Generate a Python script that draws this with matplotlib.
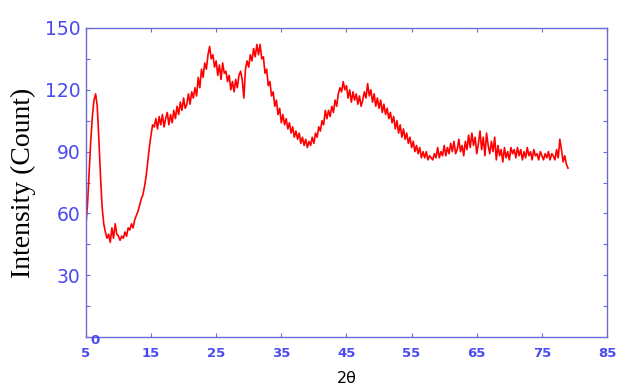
import numpy as np
import matplotlib
matplotlib.use("Agg")
import matplotlib.pyplot as plt

# diffraction scan, 2-theta from 5 to 79 deg in 0.25 deg steps
two_theta = np.arange(5.0, 79.0 + 0.001, 0.25)
counts = [
    54, 64, 80, 95,   107, 115, 118, 112,   96, 78, 63, 55,   51, 48, 50, 46,
    53, 48, 55, 50,   49, 47, 49, 48,   51, 49, 53, 52,   55, 53, 57, 59,
    61, 64, 67, 69,   73, 78, 85, 92,   98, 103, 102, 106,   101, 107, 103, 108,
    102, 106, 109, 103,   108, 104, 110, 106,   112, 108, 114, 110,   116, 111, 113, 118,
    113, 119, 116, 121,   117, 126, 121, 130,   126, 133, 130, 137,   141, 135, 137, 131,
    134, 127, 132, 125,   133, 128, 129, 124,   127, 120, 124, 119,   125, 121, 127, 129,
    125, 116, 130, 134,   131, 137, 134, 140,   136, 142, 137, 142,   135, 136, 128, 130,
    122, 124, 117, 119,   112, 115, 108, 111,   104, 108, 103, 106,   101, 104, 99, 102,
    97, 100, 96, 99,   94, 97, 93, 96,   92, 95, 93, 97,   94, 99, 97, 102,
    100, 105, 103, 110,   106, 110, 107, 112,   109, 115, 112, 118,   121, 119, 124, 120,
    122, 116, 120, 114,   119, 115, 118, 113,   117, 112, 115, 119,   116, 123, 117, 120,
    114, 118, 112, 116,   111, 115, 109, 113,   108, 111, 106, 109,   104, 107, 101, 105,
    99, 103, 97, 101,   96, 99, 94, 97,   92, 95, 90, 93,   89, 92, 87, 90,
    87, 90, 86, 88,   87, 86, 89, 87,   92, 87, 90, 88,   93, 88, 92, 89,
    94, 90, 95, 89,   91, 96, 90, 93,   88, 95, 91, 98,   92, 99, 93, 97,
    89, 94, 100, 91,   97, 88, 99, 93,   89, 95, 90, 97,   86, 93, 88, 91,
    85, 92, 87, 90,   86, 92, 89, 91,   87, 92, 88, 91,   86, 90, 87, 92,
    88, 90, 86, 91,   88, 89, 86, 90,   88, 86, 89, 87,   90, 86, 89, 88,
    86, 91, 87, 96,   91, 85, 88, 84,   82,
]

xticks = [5, 15, 25, 35, 45, 55, 65, 75, 85]
yticks = [15, 30, 45, 60, 75, 90, 105, 120, 135, 150]
ylabels = ["", "30", "", "60", "", "90", "", "120", "", "150"]

frame_col = "#6b6bd6"
label_col = "#4a4af0"

fig = plt.figure(figsize=(6.22, 3.88), dpi=100)
ax = fig.add_axes([0.138, 0.131, 0.838, 0.797])
ax.plot(two_theta, counts, color="#ff0000", lw=1.2)

ax.set_xlim(5, 85)
ax.set_ylim(0, 150)
ax.set_xticks(xticks)
ax.set_xticklabels([str(t) for t in xticks], fontsize=9.5, fontweight="bold",
                   color=label_col)
ax.set_yticks(yticks)
ax.set_yticklabels(ylabels, fontsize=13.5, color=label_col)
ax.tick_params(direction="in", length=3, width=0.8, color=frame_col,
               top=True, right=True)
ax.tick_params(axis="x", pad=7)
ax.tick_params(axis="y", pad=4)
for s in ax.spines.values():
    s.set_color(frame_col)
    s.set_linewidth(1.0)

# lone zero label sitting just under the origin
ax.text(6.4, -1.5, "0", color=label_col, fontsize=9.5, fontweight="bold",
        ha="center", va="center", clip_on=False)

ax.set_ylabel("Intensity (Count)", family="Liberation Serif", fontsize=20,
              color="black", labelpad=6)
ax.set_xlabel("2θ", fontsize=11.5, color="black", labelpad=8)

fig.savefig("out.png", dpi=100)
